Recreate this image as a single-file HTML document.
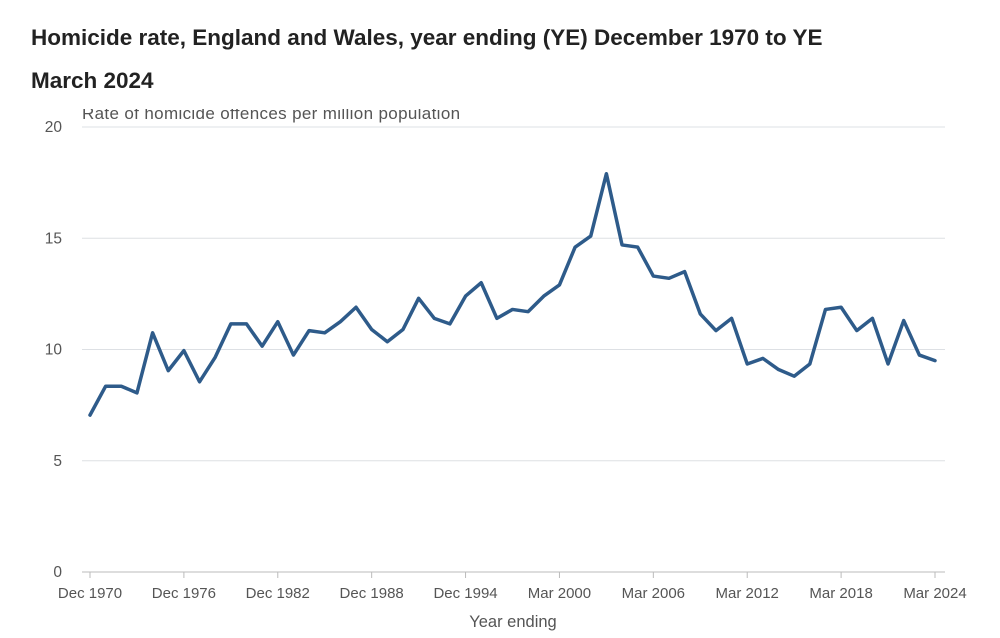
<!DOCTYPE html>
<html><head><meta charset="utf-8"><style>
body{margin:0;background:#fff;width:1000px;height:638px;overflow:hidden;font-family:"Liberation Sans",sans-serif;position:relative}
h1{position:absolute;left:31px;top:16px;margin:0;font-size:22.5px;line-height:43px;font-weight:bold;color:#222;width:950px}
#sub{position:absolute;left:82px;top:109px;height:17px;overflow:hidden;width:520px}
#sub span{position:absolute;top:-5px;left:0;font-size:17px;letter-spacing:0.35px;color:#555;white-space:nowrap}
</style></head><body>
<h1>Homicide rate, England and Wales, year ending (YE) December 1970 to YE<br>March 2024</h1>
<div id="sub"><span>Rate of homicide offences per million population</span></div>
<svg id="chart" width="1000" height="638" style="position:absolute;left:0;top:0"></svg>
<script>
const yTicks=[0,5,10,15,20];
const xLabels=["Dec 1970","Dec 1976","Dec 1982","Dec 1988","Dec 1994","Mar 2000","Mar 2006","Mar 2012","Mar 2018","Mar 2024"];
const xLabelIndex=[0,6,12,18,24,30,36,42,48,54];
const rates=[7.05,8.35,8.35,8.05,10.75,9.05,9.95,8.55,9.65,11.15,11.15,10.15,11.25,9.75,10.85,10.75,11.25,11.9,10.9,10.35,10.9,12.3,11.4,11.15,12.4,13.0,11.4,11.8,11.7,12.4,12.9,14.6,15.1,17.9,14.7,14.6,13.3,13.2,13.5,11.6,10.85,11.4,9.35,9.6,9.1,8.8,9.35,11.8,11.9,10.85,11.4,9.35,11.3,9.75,9.5];
const NS="http://www.w3.org/2000/svg";
const svg=document.getElementById('chart');
const x=i=>90+i*(935-90)/(rates.length-1);
const y=v=>572-v*22.25;
function mk(t,a){const e=document.createElementNS(NS,t);for(const k in a)e.setAttribute(k,a[k]);svg.appendChild(e);return e;}
yTicks.forEach(v=>{
  const l=mk('line',{x1:82,x2:945,y1:y(v),y2:y(v),stroke:v===0?'#bbb':'#dde0e4','stroke-width':1});
  
  
  const t=mk('text',{x:62,y:y(v)+5,'text-anchor':'end','font-size':15.5,fill:'#555','font-family':'Liberation Sans, sans-serif'});
  t.textContent=v;
  
  
});
xLabels.forEach((s,j)=>{
  const i=xLabelIndex[j];
  const tk=mk('line',{x1:x(i),x2:x(i),y1:572,y2:578,stroke:'#bbb'});
  
  
  const t=mk('text',{x:x(i),y:598,'text-anchor':'middle','font-size':15,fill:'#555','font-family':'Liberation Sans, sans-serif'});
  t.textContent=s;
  
  
});
const xt=mk('text',{x:513,y:627,'text-anchor':'middle','font-size':16.5,fill:'#555','font-family':'Liberation Sans, sans-serif'});
xt.textContent='Year ending';


const p=mk('polyline',{points:rates.map((v,i)=>x(i)+','+y(v)).join(' '),fill:'none',stroke:'#2e5b8a','stroke-width':3.5,'stroke-linejoin':'round','stroke-linecap':'round'});


</script>
</body></html>
